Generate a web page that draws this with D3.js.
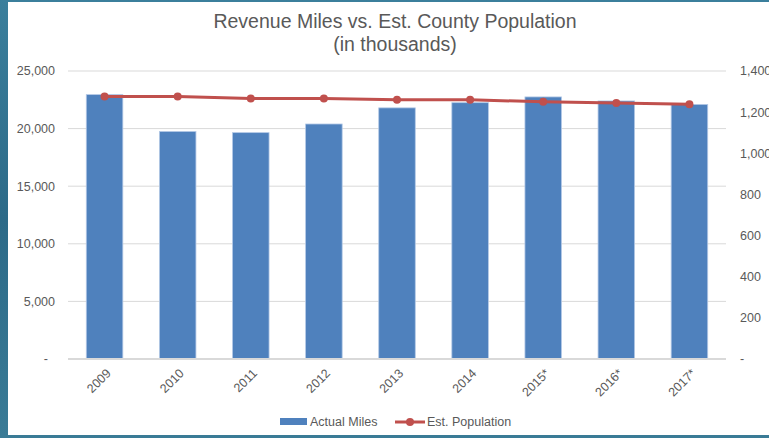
<!DOCTYPE html>
<html>
<head>
<meta charset="utf-8">
<script src="https://cdn.jsdelivr.net/npm/d3@7"></script>
<style>
  body { margin: 0; background: #2f6f8f; }
  svg { display: block; font-family: "Liberation Sans", Arial, sans-serif; }
</style>
</head>
<body>
<div class="chart-container"></div>
<script>
const years = ["2009", "2010", "2011", "2012", "2013", "2014", "2015*", "2016*", "2017*"];
const actualMiles = [22950, 19750, 19650, 20400, 21800, 22250, 22750, 22400, 22100];
const estPopulation = [1276, 1276, 1266, 1266, 1260, 1260, 1250, 1245, 1238];
const leftTicks = [0, 5000, 10000, 15000, 20000, 25000];
const rightTicks = [0, 200, 400, 600, 800, 1000, 1200, 1400];

const width = 769, height = 438;
const margin = {top: 71, right: 43, bottom: 79, left: 68};

const svg = d3.select(".chart-container")
    .append("svg")
    .attr("width", width)
    .attr("height", height);

// teal backdrop
const grad = svg.append("defs").append("linearGradient")
    .attr("id", "bg").attr("x1", 0).attr("y1", 0).attr("x2", 0).attr("y2", 1);
grad.append("stop").attr("offset", "0%").attr("stop-color", "#3b7f9c");
grad.append("stop").attr("offset", "50%").attr("stop-color", "#2c6a88");
grad.append("stop").attr("offset", "100%").attr("stop-color", "#3a7b96");
svg.append("rect").attr("width", width).attr("height", height).attr("fill", "url(#bg)");

// white chart panel
svg.append("rect")
    .attr("x", 8).attr("y", 2)
    .attr("width", width - 8).attr("height", 433)
    .attr("fill", "#fff");

const x = d3.scaleBand()
    .domain(years)
    .range([margin.left, width - margin.right])
    .paddingInner(0.5)
    .paddingOuter(0.25);

const y = d3.scaleLinear()
    .domain([0, 25000])
    .range([height - margin.bottom, margin.top]);

const y2 = d3.scaleLinear()
    .domain([0, 1400])
    .range([height - margin.bottom, margin.top]);

const fmt = v => v === 0 ? "-" : d3.format(",")(v);

// gridlines
svg.append("g")
    .selectAll("line")
    .data(leftTicks.slice(1))
    .join("line")
    .attr("x1", margin.left)
    .attr("x2", width - margin.right)
    .attr("y1", d => y(d))
    .attr("y2", d => y(d))
    .attr("stroke", "#d9d9d9")
    .attr("stroke-width", 1);

// left axis labels
svg.append("g")
    .attr("text-anchor", "end")
    .attr("fill", "#595959")
    .attr("font-size", 12.5)
    .selectAll("text")
    .data(leftTicks)
    .join("text")
    .attr("x", d => d === 0 ? 48 : 55)
    .attr("y", d => y(d))
    .attr("dy", "0.35em")
    .text(fmt);

// right axis labels (cut off by the window edge, as in the original)
svg.append("g")
    .attr("text-anchor", "start")
    .attr("fill", "#595959")
    .attr("font-size", 12.5)
    .selectAll("text")
    .data(rightTicks)
    .join("text")
    .attr("x", 740)
    .attr("y", d => y2(d))
    .attr("dy", "0.35em")
    .text(fmt);

// bars
svg.append("g")
    .selectAll("rect")
    .data(years)
    .join("rect")
    .attr("x", d => x(d))
    .attr("width", x.bandwidth())
    .attr("y", (d, i) => y(actualMiles[i]))
    .attr("height", (d, i) => y(0) - y(actualMiles[i]))
    .attr("fill", "#4f81bd")
    .attr("stroke", "#b4c9e6")
    .attr("stroke-width", 0.8);

// baseline
svg.append("line")
    .attr("x1", margin.left)
    .attr("x2", width - margin.right)
    .attr("y1", y(0))
    .attr("y2", y(0))
    .attr("stroke", "#d9d9d9")
    .attr("stroke-width", 2);

// population line
const line = d3.line()
    .x((d, i) => x(years[i]) + x.bandwidth() / 2)
    .y(d => y2(d));

svg.append("path")
    .datum(estPopulation)
    .attr("d", line)
    .attr("fill", "none")
    .attr("stroke", "#c0504d")
    .attr("stroke-width", 3);

svg.append("g")
    .selectAll("circle")
    .data(estPopulation)
    .join("circle")
    .attr("cx", (d, i) => x(years[i]) + x.bandwidth() / 2)
    .attr("cy", d => y2(d))
    .attr("r", 4)
    .attr("fill", "#c0504d");

// x labels, rotated
svg.append("g")
    .attr("fill", "#595959")
    .attr("font-size", 12.5)
    .attr("text-anchor", "end")
    .selectAll("text")
    .data(years)
    .join("text")
    .attr("transform", d => `translate(${x(d) + x.bandwidth() / 2 + 4},${y(0) + 12}) rotate(-45)`)
    .attr("dy", "0.35em")
    .text(d => d);

// title
svg.append("g")
    .attr("text-anchor", "middle")
    .attr("fill", "#595959")
    .attr("font-size", 19.5)
    .call(g => g.append("text").attr("x", 395).attr("y", 28).text("Revenue Miles vs. Est. County Population"))
    .call(g => g.append("text").attr("x", 395).attr("y", 51).text("(in thousands)"));

// legend
const legend = svg.append("g")
    .attr("fill", "#595959")
    .attr("font-size", 12.5);
legend.append("rect")
    .attr("x", 280).attr("y", 418)
    .attr("width", 27).attr("height", 7)
    .attr("fill", "#4f81bd");
legend.append("text")
    .attr("x", 310).attr("y", 422).attr("dy", "0.35em")
    .text("Actual Miles");
legend.append("line")
    .attr("x1", 395).attr("x2", 425)
    .attr("y1", 422).attr("y2", 422)
    .attr("stroke", "#c0504d")
    .attr("stroke-width", 3);
legend.append("circle")
    .attr("cx", 410).attr("cy", 422).attr("r", 4)
    .attr("fill", "#c0504d");
legend.append("text")
    .attr("x", 427).attr("y", 422).attr("dy", "0.35em")
    .text("Est. Population");
</script>
</body>
</html>
